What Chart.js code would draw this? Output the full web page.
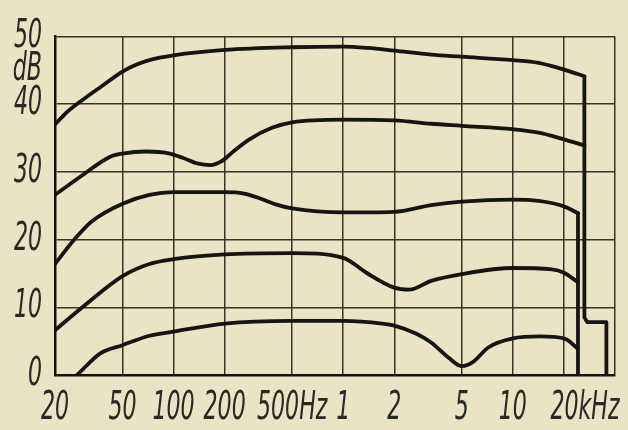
<!DOCTYPE html>
<html>
<head>
<meta charset="utf-8">
<script src="https://cdn.jsdelivr.net/npm/chart.js@4.4.1/dist/chart.umd.min.js"></script>
<style>
  html, body { margin: 0; padding: 0; background: #ebe3c5; }
  #grafico { display: block; }
</style>
</head>
<body>
<canvas id="grafico" width="628" height="430"></canvas>
<script>

// ejes
const xTicks = [20, 50, 100, 200, 500, 1000, 2000, 5000, 10000, 20000, 40000];
const xTickLabels = ["20", "50", "100", "200", "500Hz", "1", "2", "5", "10", "      20kHz", ""];
const yTicks = [0, 10, 20, 30, 40, 45, 50];
const yTickLabels = ["0", "10", "20", "30", "40", "dB", "50"];

// curvas (Hz, dB)
const curva1Hz = [20, 23.5, 29, 37, 50, 60, 72, 100, 200, 500, 1000, 1400, 2000, 3300, 5000, 10000, 14200, 20000, 26400];
const curva1Db = [37.0, 38.8, 40.6, 42.5, 44.8, 45.8, 46.5, 47.2, 48.0, 48.4, 48.5, 48.3, 47.9, 47.3, 47.0, 46.5, 46.1, 45.1, 44.1];

const curva2Hz = [20, 29, 42, 50, 69, 95, 115, 140, 165, 190, 225, 280, 380, 500, 1000, 2000, 3300, 5000, 10000, 14200, 20000, 26400];
const curva2Db = [26.6, 29.5, 32.2, 32.7, 33.0, 32.7, 32.0, 31.2, 31.0, 31.5, 33.0, 34.8, 36.5, 37.3, 37.7, 37.6, 37.1, 36.8, 36.3, 35.8, 34.8, 33.9];

const curva3Hz = [20, 26, 33, 50, 72, 100, 200, 260, 330, 400, 500, 1000, 2000, 3300, 5000, 10000, 14200, 20000, 24200];
const curva3Db = [16.4, 20.0, 22.7, 25.3, 26.6, 27.0, 27.0, 26.8, 26.0, 25.2, 24.6, 24.0, 24.1, 25.1, 25.6, 25.9, 25.7, 24.9, 23.9];

const curva4Hz = [20, 29, 50, 72, 100, 200, 500, 1000, 1370, 2000, 2450, 3300, 5000, 10000, 17000, 20000, 24200];
const curva4Db = [6.6, 10.0, 14.6, 16.4, 17.1, 17.8, 18.0, 17.3, 15.1, 12.9, 12.6, 13.9, 14.9, 15.8, 15.6, 15.1, 13.7];

const curva5Hz = [27, 37, 50, 72, 100, 200, 500, 1000, 1700, 2000, 2700, 3300, 4200, 5000, 5800, 7200, 10000, 14300, 20000, 24200];
const curva5Db = [0, 3.2, 4.4, 5.8, 6.4, 7.6, 8.0, 8.0, 7.6, 7.3, 6.1, 4.8, 2.5, 1.3, 1.9, 4.1, 5.4, 5.7, 5.4, 3.9];

// caidas verticales sobre 20 kHz
const caidaAHz = [24200, 24200];
const caidaADb = [23.9, 0];
const caidaBHz = [26400, 26400, 27500, 35600, 35600];
const caidaBDb = [44.1, 8.5, 7.8, 7.8, 0];

const colorLinea = "#171512";
const colorGrilla = "#36332a";
const fuente = { family: "'DejaVu Sans Condensed', 'DejaVu Sans', sans-serif", size: 39, style: "oblique" };

function puntos(hz, db){
    return hz.map((f, i) => ({ x: f, y: db[i] }));
}

function serie(hz, db, suave){
    return {
        data: puntos(hz, db),
        borderColor: colorLinea,
        borderWidth: 3.8,
        pointRadius: 0,
        fill: false,
        borderJoinStyle: "round",
        borderCapStyle: "round",
        cubicInterpolationMode: suave ? "monotone" : "default",
        tension: 0
    };
}

// letras angostas, como en el original
const textoAngosto = {
    id: "textoAngosto",
    beforeDraw: function(chart){
        const ctx = chart.ctx;
        if(ctx._fillOriginal) return;
        const original = ctx.fillText;
        ctx._fillOriginal = original;
        ctx.fillText = function(texto, x, y){
            this.save();
            this.translate(x, y);
            this.scale(0.63, 1);
            original.call(this, texto, 0, 0);
            this.restore();
        };
    }
};

const datasets = [
    serie(curva1Hz, curva1Db, true),
    serie(curva2Hz, curva2Db, true),
    serie(curva3Hz, curva3Db, true),
    serie(curva4Hz, curva4Db, true),
    serie(curva5Hz, curva5Db, true),
    serie(caidaAHz, caidaADb, false),
    serie(caidaBHz, caidaBDb, false)
];

const options = {
    responsive: false,
    animation: false,
    devicePixelRatio: 1,
    layout: { padding: { top: 33, right: 13, left: 0, bottom: 0 } },
    plugins: {
        legend: { display: false },
        tooltip: { enabled: false }
    },
    scales: {
        x: {
            type: "logarithmic",
            min: 20,
            max: 40000,
            afterBuildTicks: function(scale){
                scale.ticks = xTicks.map(v => ({ value: v }));
            },
            afterFit: function(scale){
                scale.height = 55;
            },
            grid: { color: colorGrilla, lineWidth: 1.5, drawTicks: false },
            border: { color: colorLinea, width: 2.5 },
            ticks: {
                autoSkip: false,
                maxRotation: 0,
                padding: 10,
                color: "#2a2824",
                font: fuente,
                callback: function(value, index){
                    return xTickLabels[index];
                }
            }
        },
        y: {
            type: "linear",
            min: 0,
            max: 50,
            afterBuildTicks: function(scale){
                scale.ticks = yTicks.map(v => ({ value: v }));
            },
            afterFit: function(scale){
                scale.width = 55;
            },
            grid: {
                drawTicks: false,
                lineWidth: 1.5,
                color: function(ctx){
                    return ctx.tick && ctx.tick.value === 45 ? "rgba(0,0,0,0)" : colorGrilla;
                }
            },
            border: { color: colorLinea, width: 2.5 },
            ticks: {
                padding: 13,
                color: "#2a2824",
                font: fuente,
                callback: function(value, index){
                    return yTickLabels[index];
                }
            }
        }
    }
};

new Chart(document.getElementById("grafico"), {
    type: "line",
    data: { datasets: datasets },
    options: options,
    plugins: [textoAngosto]
});

</script>
</body>
</html>
